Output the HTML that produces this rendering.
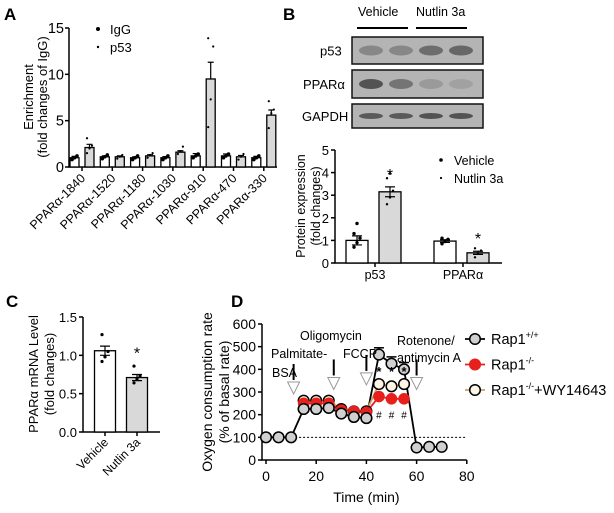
<!DOCTYPE html>
<html><head><meta charset="utf-8"><style>
body{margin:0;background:#fff}
svg{display:block;font-family:"Liberation Sans",Arial,sans-serif}
</style></head><body>
<svg id="fig" width="614" height="513" viewBox="0 0 614 513">
<g font-weight="bold" font-size="17">
<text x="4" y="20">A</text>
<text x="283" y="20">B</text>
<text x="6" y="307">C</text>
<text x="231" y="307">D</text>
</g>
<g id="pa"></g>
<g id="pb"></g>
<g id="pc"></g>
<g id="pd"></g>
</svg>
<script>
// Panel A data
const aCategories=["PPARα-1840","PPARα-1520","PPARα-1180","PPARα-1030","PPARα-910","PPARα-470","PPARα-330"];
const aIgG=[1.0,1.1,1.0,1.0,1.2,1.2,1.0];
const aIgGErr=[0.15,0.1,0.1,0.12,0.25,0.2,0.15];
const aP53=[2.1,1.1,1.2,1.6,9.5,1.1,5.6];
const aP53Err=[0.35,0.1,0.12,0.15,1.8,0.15,0.55];
const aP53Pts=[[1.5,2.0,2.3,3.1],[0.9,1.1,1.3],[1.0,1.3,1.5],[1.4,1.7,2.2],[4.3,7.3,13.0,13.9],[0.8,1.1,1.4],[4.2,5.8,6.2,7.1]];
const aTicks=[0,5,10,15];
// Panel B data
const bGroups=["p53","PPARα"];
const bVehicle=[1.0,0.97];
const bVehicleErr=[0.2,0.06];
const bNutlin=[3.15,0.45];
const bNutlinErr=[0.22,0.07];
const bVehPts=[[0.7,0.9,1.1,1.3,1.75],[0.85,0.95,1.05,1.1]];
const bNutPts=[[2.6,2.9,3.2,3.75,3.95],[0.25,0.4,0.55,0.65]];
const bTicks=[0,1,2,3,4,5];
// Panel C data
const cCategories=["Vehicle","Nutlin 3a"];
const cMeans=[1.06,0.71];
const cErr=[0.06,0.04];
const cPts=[[0.92,0.98,1.05,1.27],[0.64,0.69,0.73,0.86]];
const cTicks=[0,0.5,1.0,1.5];
// Panel D data
const dTime=[0,5,10,15,20,25,30,35,40,45,50,55,60,65,70];
const dWT=[100,100,100,225,225,230,205,190,185,465,425,400,55,58,58];
const dKOTime=[15,20,25,30,35,40,45,50,55];
const dKO=[250,250,250,220,215,210,280,270,270];
const dWY=[262,262,262,225,215,215,335,325,335];
const dXTicks=[0,20,40,60,80];
const dYTicks=[0,100,200,300,400,500,600];

const NS="http://www.w3.org/2000/svg";
function mk(parent,tag,attrs,text){const e=document.createElementNS(NS,tag);for(const k in attrs)e.setAttribute(k,attrs[k]);if(text!==undefined)e.textContent=text;parent.appendChild(e);return e;}

// ---------- Panel A ----------
(function(){
const g=document.getElementById('pa');
const x0=69,x1=277,yb=167,yt=28,max=15;
const ys=v=>yb-(v/max)*(yb-yt);
const cx=i=>82+i*30.3;
const ax=mk(g,'path',{d:`M${x0},${yt}V${yb}H${x1}`,stroke:'#000','stroke-width':1.5,fill:'none'});

aTicks.forEach(t=>{mk(g,'line',{x1:x0-4,x2:x0,y1:ys(t),y2:ys(t),stroke:'#000','stroke-width':1.5});
const tl=mk(g,'text',{x:x0-5,y:ys(t)+5,'text-anchor':'end','font-size':14.5},t);
});
aCategories.forEach((c,i)=>{
 mk(g,'line',{x1:cx(i),x2:cx(i),y1:yb,y2:yb+4,stroke:'#000','stroke-width':1.5});
 const bx=cx(i)-12,px=cx(i)+3;
 const b1=mk(g,'rect',{x:bx,y:ys(aIgG[i]),width:9,height:yb-ys(aIgG[i]),fill:'#fff',stroke:'#000','stroke-width':1.3});
 
 const b2=mk(g,'rect',{x:px,y:ys(aP53[i]),width:9,height:yb-ys(aP53[i]),fill:'#d9d9d9',stroke:'#000','stroke-width':1.3});
 
 [[bx+4.5,aIgG[i],aIgGErr[i]],[px+4.5,aP53[i],aP53Err[i]]].forEach(([x,m,e])=>{
  mk(g,'path',{d:`M${x},${ys(m)}V${ys(m+e)}M${x-3},${ys(m+e)}H${x+3}`,stroke:'#000','stroke-width':1.2});});
 [m=>m-0.2,m=>m,m=>m+0.2].forEach((f,k)=>mk(g,'circle',{cx:bx+2+k*2.5,cy:ys(f(aIgG[i])),r:1.8,fill:'#000'}));
 aP53Pts[i].forEach((p,k)=>mk(g,'circle',{cx:px+2+(k%3)*2.5,cy:ys(p),r:1.1,fill:'#000'}));
 const lx=cx(i)+4,ly=yb+12;
 const tl=mk(g,'text',{x:lx,y:ly,'text-anchor':'end','font-size':12.5,transform:`rotate(-45 ${lx} ${ly})`},c);
 
});
const yl=mk(g,'text',{transform:'translate(33,97) rotate(-90)','text-anchor':'middle','font-size':13});

mk(yl,'tspan',{x:0,dy:0},'Enrichment');mk(yl,'tspan',{x:0,dy:14},'(fold changes of IgG)');
mk(g,'circle',{cx:98,cy:29,r:2,fill:'#000'});mk(g,'circle',{cx:98,cy:47,r:1.2,fill:'#000'});
const l1=mk(g,'text',{x:110,y:34,'font-size':13},'IgG');
const l2=mk(g,'text',{x:110,y:52,'font-size':13},'p53');
})();

// ---------- Panel B ----------
(function(){
const g=document.getElementById('pb');
mk(g,'text',{x:358,y:16,'font-size':12.5},'Vehicle');
mk(g,'text',{x:416,y:16,'font-size':12.5},'Nutlin 3a');
mk(g,'line',{x1:357,x2:408,y1:28,y2:28,stroke:'#000','stroke-width':2});
mk(g,'line',{x1:416,x2:467,y1:28,y2:28,stroke:'#000','stroke-width':2});
const blots=[["p53",37,64,[0.35,0.35,0.55,0.6],320],["PPARα",70,98,[0.75,0.5,0.2,0.15],303],["GAPDH",104,128,[0.7,0.7,0.75,0.75],302]];
blots.forEach(([n,y0,y1,ints,lx])=>{
 const r=mk(g,'rect',{x:352,y:y0,width:131,height:y1-y0,fill:'#b4b4b4',stroke:'#111','stroke-width':1.5});
 
 ints.forEach((v,k)=>mk(g,'ellipse',{cx:371+k*30,cy:(y0+y1)/2,rx:12,ry:n==='GAPDH'?3:5,fill:'#333','fill-opacity':v}));
 mk(g,'text',{x:lx,y:(y0+y1)/2+5,'font-size':13},n);
});
const x0=335,x1=502,yb=263,yt=150,max=5;
const ys=v=>yb-(v/max)*(yb-yt);
mk(g,'path',{d:`M${x0},${yt}V${yb}H${x1}`,stroke:'#000','stroke-width':1.5,fill:'none'});
bTicks.forEach(t=>{mk(g,'line',{x1:x0-4,x2:x0,y1:ys(t),y2:ys(t),stroke:'#000','stroke-width':1.5});
 mk(g,'text',{x:x0-6,y:ys(t)+5,'text-anchor':'end','font-size':13},t);});
const centers=[375,463];
bGroups.forEach((n,i)=>{
 const c=centers[i];mk(g,'line',{x1:c,x2:c,y1:yb,y2:yb+4,stroke:'#000','stroke-width':1.5});
 const lab=mk(g,'text',{x:c,y:yb+16,'text-anchor':'middle','font-size':12.5},n);
 
 const vx=c-29,nx=c+4;
 const bv=mk(g,'rect',{x:vx,y:ys(bVehicle[i]),width:22,height:yb-ys(bVehicle[i]),fill:'#fff',stroke:'#000','stroke-width':1.3});
 
 const bn=mk(g,'rect',{x:nx,y:ys(bNutlin[i]),width:22,height:yb-ys(bNutlin[i]),fill:'#d9d9d9',stroke:'#000','stroke-width':1.3});
 
 [[vx+11,bVehicle[i],bVehicleErr[i]],[nx+11,bNutlin[i],bNutlinErr[i]]].forEach(([x,m,e])=>{
  mk(g,'path',{d:`M${x},${ys(m-e)}V${ys(m+e)}M${x-5},${ys(m+e)}H${x+5}M${x-5},${ys(m-e)}H${x+5}`,stroke:'#000','stroke-width':1.2});});
 bVehPts[i].forEach((p,k)=>mk(g,'circle',{cx:vx+8+(k%3)*3,cy:ys(p),r:1.7,fill:'#000'}));
 bNutPts[i].forEach((p,k)=>mk(g,'circle',{cx:nx+8+(k%3)*3,cy:ys(p),r:1.2,fill:'#000'}));
 mk(g,'text',{x:nx+11,y:ys(bNutlin[i]+bNutlinErr[i])-7,'text-anchor':'middle','font-size':16},'*');
});
const yl=mk(g,'text',{transform:'translate(305,206) rotate(-90)','text-anchor':'middle','font-size':12.5});

mk(yl,'tspan',{x:0,dy:0},'Protein expression');mk(yl,'tspan',{x:0,dy:15},'(fold changes)');
mk(g,'circle',{cx:441,cy:160,r:1.8,fill:'#000'});mk(g,'circle',{cx:441,cy:178,r:1.1,fill:'#000'});
mk(g,'text',{x:454,y:165,'font-size':12.5},'Vehicle');mk(g,'text',{x:454,y:183,'font-size':12.5},'Nutlin 3a');
})();

// ---------- Panel C ----------
(function(){
const g=document.getElementById('pc');
const x0=83,x1=160,yb=432,yt=317,max=1.5;
const ys=v=>yb-(v/max)*(yb-yt);
mk(g,'path',{d:`M${x0},${yt}V${yb}H${x1}`,stroke:'#000','stroke-width':1.5,fill:'none'});
cTicks.forEach(t=>{mk(g,'line',{x1:x0-4,x2:x0,y1:ys(t),y2:ys(t),stroke:'#000','stroke-width':1.5});
 mk(g,'text',{x:x0-6,y:ys(t)+5,'text-anchor':'end','font-size':13},t.toFixed(1));});
const centers=[105,137];
cCategories.forEach((n,i)=>{
 const c=centers[i];mk(g,'line',{x1:c,x2:c,y1:yb,y2:yb+4,stroke:'#000','stroke-width':1.5});
 const b=mk(g,'rect',{x:c-10.5,y:ys(cMeans[i]),width:21,height:yb-ys(cMeans[i]),fill:i?'#d9d9d9':'#fff',stroke:'#000','stroke-width':1.3});
 
 const m=cMeans[i],e=cErr[i];
 mk(g,'path',{d:`M${c},${ys(m-e)}V${ys(m+e)}M${c-5},${ys(m+e)}H${c+5}M${c-5},${ys(m-e)}H${c+5}`,stroke:'#000','stroke-width':1.2});
 cPts[i].forEach((p,k)=>mk(g,'circle',{cx:c-3+(k%3)*3,cy:ys(p),r:1.6,fill:'#000'}));
 const lx=c+4,ly=yb+11;
 const tl=mk(g,'text',{x:lx,y:ly,'text-anchor':'end','font-size':12,transform:`rotate(-45 ${lx} ${ly})`},n);
 
});
mk(g,'text',{x:centers[1],y:ys(cMeans[1]+cErr[1])-16,'text-anchor':'middle','font-size':16},'*');
const yl=mk(g,'text',{transform:'translate(38,374) rotate(-90)','text-anchor':'middle','font-size':13});

mk(yl,'tspan',{x:0,dy:0},'PPARα mRNA Level');mk(yl,'tspan',{x:0,dy:16},'(fold changes)');
})();

// ---------- Panel D ----------
(function(){
const g=document.getElementById('pd');
const x0=262,yb=460,yt=324;
const xs=t=>266+t*2.51,ys=v=>yb-(v/600)*(yb-yt);
mk(g,'path',{d:`M${x0},${yt}V${yb}H${xs(80)}`,stroke:'#000','stroke-width':1.5,fill:'none'});
dYTicks.forEach(t=>{mk(g,'line',{x1:x0-4,x2:x0,y1:ys(t),y2:ys(t),stroke:'#000','stroke-width':1.5});
 mk(g,'text',{x:x0-6,y:ys(t)+5,'text-anchor':'end','font-size':14},t);});
dXTicks.forEach(t=>{mk(g,'line',{x1:xs(t),x2:xs(t),y1:yb,y2:yb+4,stroke:'#000','stroke-width':1.5});
 mk(g,'text',{x:xs(t),y:yb+21,'text-anchor':'middle','font-size':14},t);});
mk(g,'line',{x1:xs(10),x2:xs(80),y1:ys(100),y2:ys(100),stroke:'#000','stroke-width':1,'stroke-dasharray':'2,2'});
const xt=mk(g,'text',{x:xs(40),y:502,'text-anchor':'middle','font-size':14},'Time (min)');

const yl=mk(g,'text',{transform:'translate(212,392) rotate(-90)','text-anchor':'middle','font-size':14});

mk(yl,'tspan',{x:0,dy:0},'Oxygen consumption rate');mk(yl,'tspan',{x:0,dy:17},'(% of basal rate)');
const line=(T,V,col)=>{let d='';T.forEach((t,i)=>d+=(i?'L':'M')+xs(t)+','+ys(V[i]));
 const p=mk(g,'path',{d,fill:'none',stroke:col,'stroke-width':1.8});return p;};
const l1=line(dTime,dWT,'#000');
const l3=line(dKOTime,dWY,'#c8a070');
const l2=line(dKOTime,dKO,'#e8201c');
[[45,465],[50,425],[55,400]].forEach(([t,v])=>mk(g,'line',{x1:xs(t)-5,x2:xs(t)+5,y1:ys(v+30),y2:ys(v+30),stroke:'#000','stroke-width':1.5}));
const R=5.3;
dTime.forEach((t,i)=>mk(g,'circle',{cx:xs(t),cy:ys(dWT[i]),r:R,fill:'#d0d0d0',stroke:'#000','stroke-width':1.5}));
dKOTime.forEach((t,i)=>mk(g,'circle',{cx:xs(t),cy:ys(dWY[i]),r:R,fill:'#fdf6e6',stroke:'#000','stroke-width':1.5}));
dKOTime.forEach((t,i)=>mk(g,'circle',{cx:xs(t),cy:ys(dKO[i]),r:R,fill:'#e8201c',stroke:'#e8201c','stroke-width':1}));
dTime.slice(3,9).forEach((t,i)=>mk(g,'circle',{cx:xs(t),cy:ys(dWT[i+3]),r:R,fill:'#d0d0d0',stroke:'#000','stroke-width':1.5}));
[45,50,55].forEach(t=>{mk(g,'text',{x:xs(t),y:ys(370),'text-anchor':'middle','font-size':13,'font-weight':'bold'},'*');
 mk(g,'text',{x:xs(t),y:ys(200)+4,'text-anchor':'middle','font-size':10},'#');});
[[11,ys(300)],[27,ys(320)],[40,ys(340)],[60,ys(320)]].forEach(([t,y])=>{
 const x=xs(t);mk(g,'line',{x1:x,x2:x,y1:y-28,y2:y-12,stroke:'#000','stroke-width':2});
 mk(g,'path',{d:`M${x-6},${y-10}L${x+6},${y-10}L${x},${y+2}Z`,fill:'#fff',stroke:'#999','stroke-width':1});
});
const tx=(x,y,s)=>mk(g,'text',{x,y,'font-size':12.5},s);
tx(271,358,'Palmitate-');tx(272,377,'BSA');tx(300,340,'Oligomycin');tx(343,358,'FCCP');
tx(397,345,'Rotenone/');tx(397,362,'antimycin A');
const leg=[['#d0d0d0','#000','#000','Rap1','+/+',''],['#e8201c','#e8201c','#e8201c','Rap1','-/-',''],['#fdf6e6','#000','#c8a070','Rap1','-/-','+WY14643']];
leg.forEach(([f,s,lc,a,sup,b],i)=>{const y=339+i*25.5;
 mk(g,'line',{x1:465,x2:485,y1:y,y2:y,stroke:lc,'stroke-width':1.8});
 mk(g,'circle',{cx:475,cy:y,r:R,fill:f,stroke:s,'stroke-width':1.5});
 const t=mk(g,'text',{x:491,y:y+5,'font-size':14.5});
 mk(t,'tspan',{},a);mk(t,'tspan',{'font-size':9,dy:-6},sup);mk(t,'tspan',{dy:6},b);});
})();
</script>
</body></html>
